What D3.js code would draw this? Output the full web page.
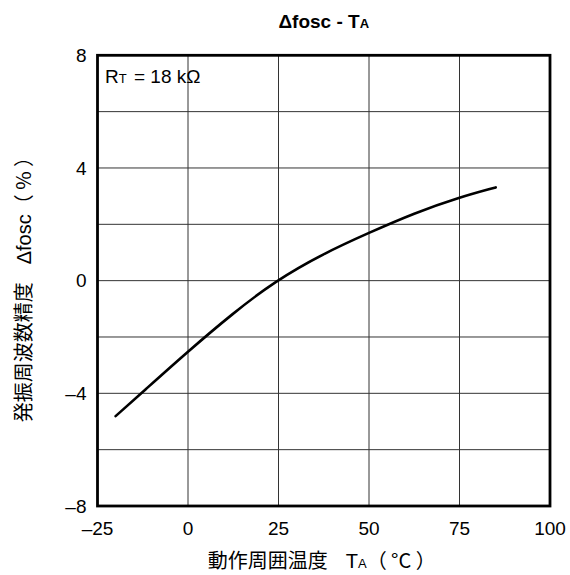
<!DOCTYPE html>
<html><head><meta charset="utf-8">
<script src="https://cdn.jsdelivr.net/npm/d3@7"></script>
<style>
body{margin:0;background:#fff;}
text{font-family:"Liberation Sans",Arial,"Noto Sans CJK JP",sans-serif;fill:#000;}
</style></head><body>
<svg id="c" width="570" height="575"></svg>
<script>
const temps = [-20, -12.5, 0, 12.5, 24, 37.5, 50, 62.5, 75, 85];
const dfosc = [-4.81, -3.95, -2.51, -1.15, -0.02, 0.97, 1.70, 2.40, 2.96, 3.31];
const xTicks = [-25, 0, 25, 50, 75, 100];
const yTicks = [-8, -4, 0, 4, 8];
const yGrid = [-6, -4, -2, 0, 2, 4, 6];

const svg = d3.select("#c");
const L = 97.5, R = 550, T = 55.3, B = 506;
const x = d3.scaleLinear().domain([-25, 100]).range([L, R]);
const y = d3.scaleLinear().domain([-8, 8]).range([B, T]);
const cjk = '"Noto Sans CJK JP",sans-serif';

// grid
svg.append("g").selectAll("line").data(xTicks.slice(1, -1)).join("line")
  .attr("x1", d => x(d)).attr("x2", d => x(d)).attr("y1", T).attr("y2", B)
  .attr("stroke", "#333").attr("stroke-width", 1);
svg.append("g").selectAll("line").data(yGrid).join("line")
  .attr("x1", L).attr("x2", R).attr("y1", d => y(d)).attr("y2", d => y(d))
  .attr("stroke", "#333").attr("stroke-width", 1);

// frame
svg.append("rect").attr("x", L).attr("y", T).attr("width", R - L).attr("height", B - T)
  .attr("fill", "none").attr("stroke", "#000").attr("stroke-width", 2.8);

// curve
const line = d3.line().x((d, i) => x(temps[i])).y(d => y(d)).curve(d3.curveBasis);
svg.append("path").attr("d", line(dfosc)).attr("fill", "none")
  .attr("stroke", "#000").attr("stroke-width", 2.6).attr("stroke-linecap", "round");

const fmt = d => d < 0 ? "\u2013" + Math.abs(d) : String(d);
// y tick labels
svg.append("g").selectAll("text").data(yTicks).join("text")
  .attr("x", L - 11).attr("y", d => y(d)).attr("dy", "0.36em")
  .attr("text-anchor", "end").attr("font-size", 19).text(fmt);
// x tick labels
svg.append("g").selectAll("text").data(xTicks).join("text")
  .attr("x", d => x(d)).attr("y", 535)
  .attr("text-anchor", "middle").attr("font-size", 19).text(fmt);

// title
const t = svg.append("text").attr("x", (L + R) / 2).attr("y", 28).attr("text-anchor", "middle")
  .attr("font-size", 19).attr("font-weight", "bold");
t.append("tspan").text("\u0394fosc - T");
t.append("tspan").attr("font-size", 13).text("A");

// annotation
const a = svg.append("text").attr("x", 105).attr("y", 83).attr("font-size", 19);
a.append("tspan").text("R");
a.append("tspan").attr("font-size", 13).text("T");
a.append("tspan").attr("dx", 2).text(" = 18 k\u03A9");

// x axis title
const xt = svg.append("text").attr("x", (L + R) / 2 - 2).attr("y", 568).attr("text-anchor", "middle").attr("font-size", 20);
xt.append("tspan").style("font-family", cjk).text("動作周囲温度");
xt.append("tspan").attr("dx", 18).text("T");
xt.append("tspan").attr("font-size", 13).text("A");
xt.append("tspan").style("font-family", cjk).text("（ °C ）");

// y axis title
const yt = svg.append("text").attr("transform", `translate(31,${(T + B) / 2 + 4}) rotate(-90)`)
  .attr("text-anchor", "middle").attr("font-size", 20);
yt.append("tspan").style("font-family", cjk).text("発振周波数精度");
yt.append("tspan").attr("dx", 18).text("\u0394fosc");
yt.append("tspan").style("font-family", cjk).text("（ % ）");
</script></body></html>
